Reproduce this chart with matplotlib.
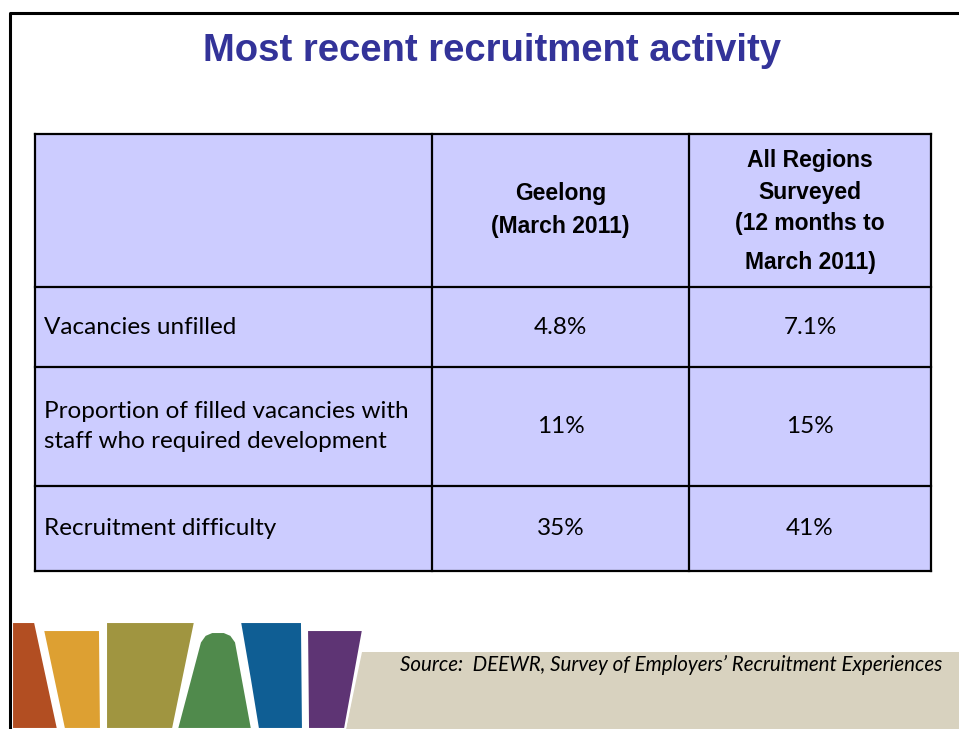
import matplotlib
matplotlib.use("Agg")
import matplotlib.pyplot as plt
from matplotlib.patches import Rectangle, Polygon

# Table content
title = "Most recent recruitment activity"
col_headers = [["Geelong", "(March 2011)"],
               ["All Regions", "Surveyed", "(12 months to", "March 2011)"]]
row_labels = ["Vacancies unfilled",
              "Proportion of filled vacancies with\nstaff who required development",
              "Recruitment difficulty"]
geelong = ["4.8%", "11%", "35%"]
all_regions = ["7.1%", "15%", "41%"]
source = "Source:  DEEWR, Survey of Employers\u2019 Recruitment Experiences"

# Layout (pixels)
col_edges = [35, 432, 689, 931]
row_edges = [134, 287, 367, 486, 571]
fill = "#CCCCFF"

narrow = ["Liberation Sans"]
body = ["Lato", "DejaVu Sans"]

fig = plt.figure(figsize=(9.59, 7.29), dpi=100)
ax = fig.add_axes([0, 0, 1, 1])
ax.set_xlim(0, 959)
ax.set_ylim(729, 0)
ax.axis("off")

# slide frame
ax.plot([10, 10, 959], [729, 13, 13], color="black", lw=2.2, solid_capstyle="butt")

ax.text(492, 51, title, ha="center", va="center", fontsize=27.5, fontweight="bold",
        color="#333399", family=narrow)

# table cells
ax.add_patch(Rectangle((col_edges[0], row_edges[0]), col_edges[-1] - col_edges[0],
                       row_edges[-1] - row_edges[0], facecolor=fill, edgecolor="none"))
for y in row_edges:
    ax.plot([col_edges[0], col_edges[-1]], [y, y], color="black", lw=1.6, solid_capstyle="projecting")
for x in col_edges:
    ax.plot([x, x], [row_edges[0], row_edges[-1]], color="black", lw=1.6, solid_capstyle="projecting")

# headers
hdr_y = [[193, 226], [160, 192, 223, 262]]
for j, lines in enumerate(col_headers):
    cx = (col_edges[j + 1] + col_edges[j + 2]) / 2
    for line, y in zip(lines, hdr_y[j]):
        ax.text(cx, y, line, ha="center", va="center", fontsize=16.5, fontweight="bold",
                family=narrow)

# rows
for i, label in enumerate(row_labels):
    cy = (row_edges[i + 1] + row_edges[i + 2]) / 2
    ax.text(44, cy, label, ha="left", va="center", fontsize=17.5, family=body,
            linespacing=1.55, color="black")
    for j, vals in enumerate([geelong, all_regions]):
        cx = (col_edges[j + 1] + col_edges[j + 2]) / 2
        ax.text(cx, cy, vals[i], ha="center", va="center", fontsize=17.5, family=body,
                color="black")

# footer decoration
ax.add_patch(Polygon([(362, 652), (959, 652), (959, 729), (346, 729)],
                     closed=True, facecolor="#D8D2BF", edgecolor="none"))
shapes = [
    ([(12, 622), (35, 622), (58, 729), (12, 729)], "#B24E22"),
    ([(43, 630), (100, 630), (101, 729), (64, 729)], "#DDA032"),
    ([(106, 622), (195, 622), (173, 729), (106, 729)], "#A09540"),
    ([(200, 642), (205, 635), (212, 632), (224, 632), (231, 635), (236, 642),
      (252, 729), (177, 729)], "#508A4C"),
    ([(240, 622), (302, 622), (303, 729), (258, 729), (250, 680)], "#0F5E94"),
    ([(307, 630), (363, 630), (345, 729), (308, 729)], "#5E3474"),
]
for pts, c in shapes:
    ax.add_patch(Polygon(pts, closed=True, facecolor=c, edgecolor="white", lw=1.5))

ax.text(942, 665, source, ha="right", va="center", fontsize=14.8, style="italic",
        family=body, color="black")

fig.savefig("out.png", dpi=100)
